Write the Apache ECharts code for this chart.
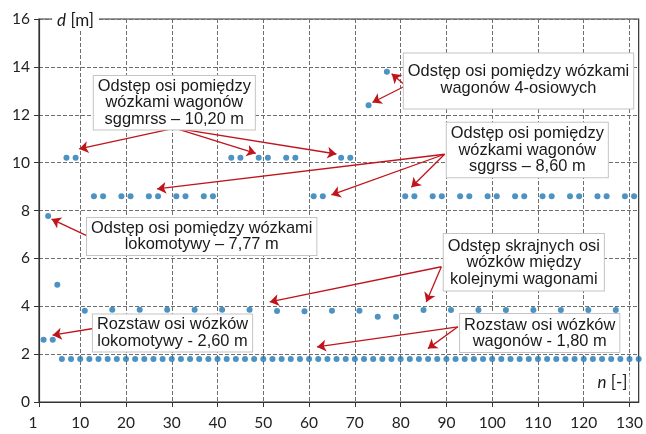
<!DOCTYPE html>
<html><head><meta charset="utf-8">
<script src="https://cdn.jsdelivr.net/npm/echarts@6/dist/echarts.min.js"></script>
<style>html,body{margin:0;padding:0;background:#fff}#c{width:646px;height:434px}</style>
</head><body><div id="c"></div>
<script>
// ---- data (n = axle-spacing index, d = spacing in metres) ----
const locoN = [2, 3, 4, 5];
const locoD = [2.6, 7.77, 2.6, 4.9];

const wagonsAN = [6,7,8,9,10,11, 12,13,14,15,16,17, 18,19,20,21,22,23, 24,25,26,27,28,29,
  30,31,32,33,34,35, 36,37,38,39,40,41, 42,43,44,45,46,47, 48,49,50,51,52,53,
  54,55,56,57,58,59, 60,61,62,63,64,65, 66,67,68,69,70,71];
const wagonsAD = [1.8,10.2,1.8,10.2,1.8,3.81, 1.8,8.6,1.8,8.6,1.8,3.85, 1.8,8.6,1.8,8.6,1.8,3.85,
  1.8,8.6,1.8,8.6,1.8,3.85, 1.8,8.6,1.8,8.6,1.8,3.85, 1.8,8.6,1.8,8.6,1.8,3.85,
  1.8,10.2,1.8,10.2,1.8,3.85, 1.8,10.2,1.8,10.2,1.8,3.8, 1.8,10.2,1.8,10.2,1.8,3.79,
  1.8,8.6,1.8,8.6,1.8,3.81, 1.8,10.2,1.8,10.2,1.8,3.81];

const wagonsBN = [72, 73, 74, 75, 76, 77, 78, 79];
const wagonsBD = [1.8, 12.4, 1.8, 3.56, 1.8, 13.8, 1.8, 3.56];

const wagonsCN = [80,81,82,83,84,85, 86,87,88,89,90,91, 92,93,94,95,96,97, 98,99,100,101,102,103,
  104,105,106,107,108,109, 110,111,112,113,114,115, 116,117,118,119,120,121,
  122,123,124,125,126,127, 128,129,130,131,132];
const wagonsCD = [1.8,8.6,1.8,8.6,1.8,3.84, 1.8,8.6,1.8,8.6,1.8,3.84, 1.8,8.6,1.8,8.6,1.8,3.84,
  1.8,8.6,1.8,8.6,1.8,3.84, 1.8,8.6,1.8,8.6,1.8,3.84, 1.8,8.6,1.8,8.6,1.8,3.84,
  1.8,8.6,1.8,8.6,1.8,3.84, 1.8,8.6,1.8,8.6,1.8,3.84, 1.8,8.6,1.8,8.6,1.8];

const xTicks = [1, 10, 20, 30, 40, 50, 60, 70, 80, 90, 100, 110, 120, 130];

// ---- annotations ----
const notes = [
  'Odstęp osi pomiędzy\nwózkami wagonów\nsggmrss – 10,20 m',
  'Odstęp osi pomiędzy wózkami\nwagonów 4-osiowych',
  'Odstęp osi pomiędzy\nwózkami wagonów\nsggrss – 8,60 m',
  'Odstęp osi pomiędzy wózkami\nlokomotywy – 7,77 m',
  'Rozstaw osi wózków\nlokomotywy - 2,60 m',
  'Odstęp skrajnych osi\nwózków między\nkolejnymi wagonami',
  'Rozstaw osi wózków\nwagonów - 1,80 m'
];
// arrows: [from, to] in data coordinates
const arrows = [
  [[30.67, 11.44], [9.78, 10.57]], [[30.67, 11.44], [48.35, 10.39]], [[30.67, 11.44], [65.97, 10.36]],
  [[89.61, 10.35], [26.8, 8.9]], [[89.61, 10.35], [64.88, 8.65]], [[89.61, 10.35], [82.34, 8.97]],
  [[81.1, 13.21], [78.04, 13.71]], [[81.1, 13.21], [73.83, 12.51]],
  [[11.4, 6.95], [3.75, 7.64]],
  [[12.84, 3.07], [3.97, 2.79]],
  [[88.89, 5.65], [51.41, 4.18]], [[88.89, 5.65], [85.61, 4.18]],
  [[92.51, 3.14], [61.73, 2.30]], [[92.51, 3.14], [85.96, 2.23]]
];

const points = [];
[[locoN, locoD], [wagonsAN, wagonsAD], [wagonsBN, wagonsBD], [wagonsCN, wagonsCD]].forEach(function (g) {
  g[0].forEach(function (n, i) { points.push([n, g[1][i]]); });
});

const boxPos = [ // [centre x, top y, padding]
  [174.3, 76, [2, 4, 2, 4]],
  [518.5, 53.5, [10, 4, 12, 4]],
  [527.3, 122.7, [3, 4, 2, 4]],
  [201.7, 218, [2, 4, 2, 4]],
  [172.5, 314.5, [2, 4, 2, 4]],
  [523.8, 234, [4, 4, 3, 4]],
  [539.7, 314, [3, 4, 2, 4]]
];

const boxFont = 'Liberation Sans, Arial, sans-serif';
const tickFont = 'Lato, sans-serif';

const graphics = notes.map(function (t, i) {
  return {
    type: 'text', x: boxPos[i][0], y: boxPos[i][1], z: 100,
    style: {
      text: t, fontFamily: boxFont, fontSize: 16.4, fill: '#1a1a1a',
      align: 'center', verticalAlign: 'top', lineHeight: 16.5,
      backgroundColor: '#fff', borderColor: '#c4c4c4', borderWidth: 1,
      padding: boxPos[i][2]
    }
  };
});
graphics.push({
  type: 'text', x: 75.5, y: 21, z: 100,
  style: {
    text: '{i|d} [m]', fontFamily: tickFont, fontSize: 17, fill: '#1a1a1a',
    align: 'center', verticalAlign: 'middle', backgroundColor: '#fff', padding: [0, 5],
    rich: { i: { fontStyle: 'italic', fontFamily: tickFont, fontSize: 17, fill: '#1a1a1a' } }
  }
});
graphics.push({
  type: 'text', x: 612.5, y: 383, z: 100,
  style: {
    text: '{i|n} [-]', fontFamily: tickFont, fontSize: 17, fill: '#1a1a1a',
    align: 'center', verticalAlign: 'middle', backgroundColor: '#fff', padding: [0, 2],
    rich: { i: { fontStyle: 'italic', fontFamily: tickFont, fontSize: 17, fill: '#1a1a1a' } }
  }
});

const chart = echarts.init(document.getElementById('c'), null, { renderer: 'canvas' });
chart.setOption({
  animation: false,
  grid: { left: 39, right: 7, top: 19, bottom: 32, show: true, borderColor: '#333', borderWidth: 1.2 },
  xAxis: {
    type: 'value', min: 1, max: 132,
    axisLine: { show: true, lineStyle: { color: '#333', width: 1.2 } },
    axisTick: { show: true, customValues: xTicks, length: 5, lineStyle: { color: '#333' } },
    axisLabel: {
      customValues: xTicks, margin: 13, color: '#222', fontFamily: tickFont, fontSize: 15.5,
      formatter: function (v) { return v === 1 ? '{f|1}' : String(v); },
      rich: { f: { padding: [0, 12, 0, 0], fontFamily: tickFont, fontSize: 15.5, color: '#222' } }
    },
    splitLine: { show: true, lineStyle: { color: '#6e6e6e', width: 1, type: 'dashed' } }
  },
  yAxis: {
    type: 'value', min: 0, max: 16, interval: 2,
    axisLine: { show: true, lineStyle: { color: '#333', width: 1.2 } },
    axisTick: { show: true, length: 5, lineStyle: { color: '#333' } },
    axisLabel: { margin: 9, color: '#222', fontFamily: tickFont, fontSize: 15.5 },
    splitLine: { show: true, lineStyle: { color: '#6e6e6e', width: 1, type: 'dashed' } }
  },
  series: [{
    type: 'scatter', data: points, symbolSize: 6,
    itemStyle: { color: '#1f77b4' }, z: 3,
    markLine: {
      silent: true, symbol: ['none', 'arrow'], symbolSize: 9,
      label: { show: false }, emphasis: { disabled: true },
      lineStyle: { color: '#c0141b', width: 1.3, type: 'solid' },
      data: arrows.map(function (a) { return [{ coord: a[0] }, { coord: a[1] }]; })
    }
  }],
  graphic: graphics
});
</script></body></html>
